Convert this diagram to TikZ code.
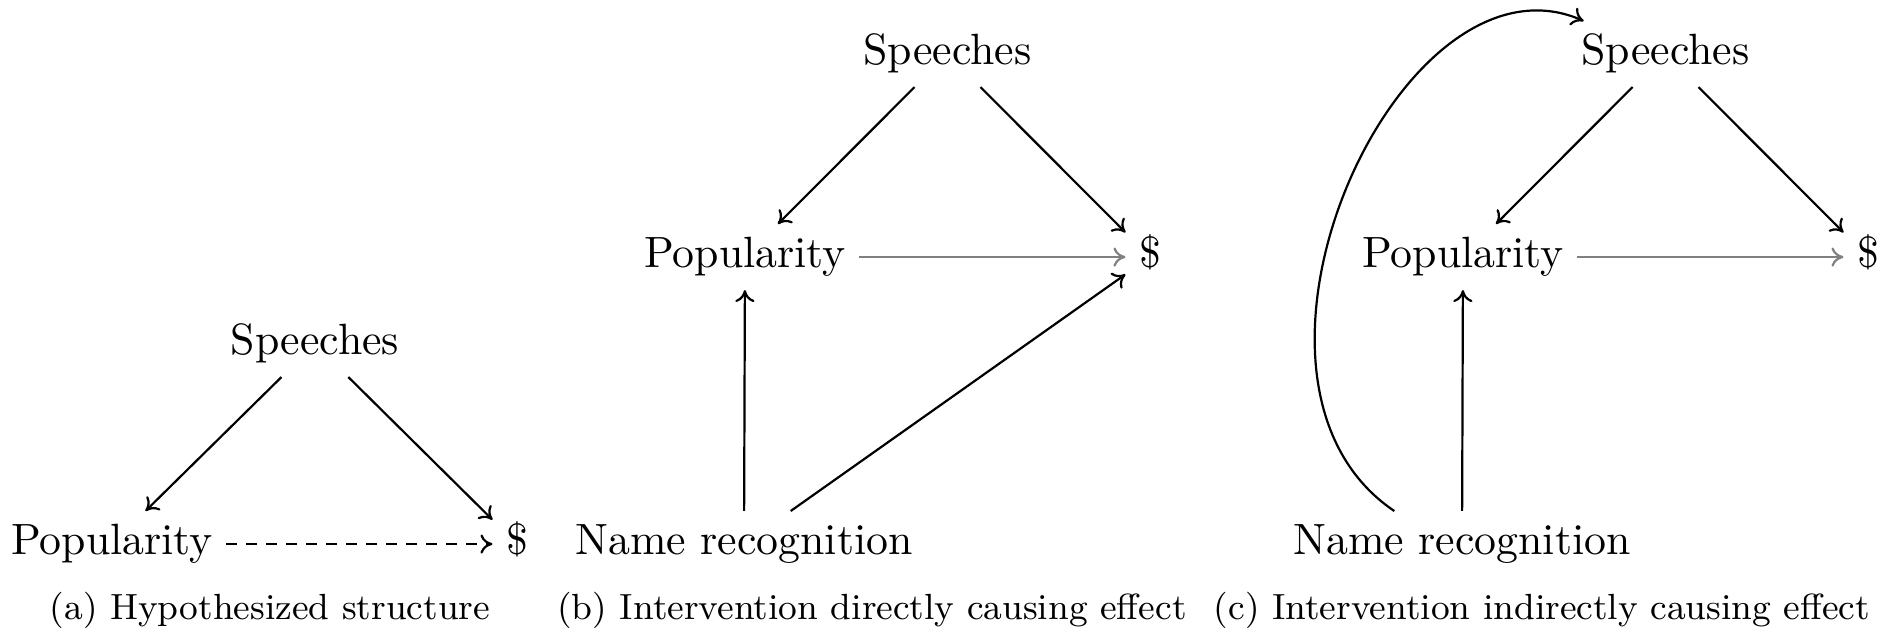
\documentclass[tikz,border=0pt]{standalone}
\usetikzlibrary{arrows.meta}
\begin{document}
\begin{tikzpicture}[x=0.25pt,y=-0.25pt,
  lbl/.style={font=\fontsize{10.95}{13}\selectfont, anchor=base, inner sep=3.2pt,
              text height=7.6pt, text depth=2.12pt},
  captxt/.style={font=\fontsize{9.1}{11}\selectfont, anchor=base, inner sep=0pt},
  arr/.style={-{To[length=3pt,width=4.8pt]}, line width=0.55pt},
  garr/.style={arr, gray},
  dsh/.style={arr, dash pattern=on 2.6pt off 2.4pt}]
\useasboundingbox (0,0) rectangle (1883,628);
% panel (a)
\node[lbl] (sa) at (315,355) {Speeches};
\node[lbl] (pa) at (112,555) {Popularity};
\node[lbl] (da) at (517,555) {\$};
\draw[arr] (sa) -- (pa);
\draw[arr] (sa) -- (da);
\draw[dsh] (pa) -- (da);
\node[captxt] (capa) at (270,620) {(a) Hypothesized structure};
% panel (b)
\node[lbl] (sb) at (947.5,65) {Speeches};
\node[lbl] (pb) at (745,268) {Popularity};
\node[lbl] (db) at (1150,268) {\$};
\node[lbl] (nb) at (744,555) {Name recognition};
\draw[arr] (sb) -- (pb);
\draw[arr] (sb) -- (db);
\draw[garr] (pb) -- (db);
\draw[arr] (nb) -- (pb);
\draw[arr] (nb) -- (db);
\node[captxt] (capb) at (872,620) {(b) Intervention directly causing effect};
% panel (c)
\node[lbl] (sc) at (1665.5,65) {Speeches};
\node[lbl] (pc) at (1463,268) {Popularity};
\node[lbl] (dc) at (1868,268) {\$};
\node[lbl] (nc) at (1462,555) {Name recognition};
\draw[arr] (sc) -- (pc);
\draw[arr] (sc) -- (dc);
\draw[garr] (pc) -- (dc);
\draw[arr] (nc) -- (pc);
\draw[arr] (nc.154) .. controls (1200,380) and (1400,-60) .. (sc.158);
\node[captxt] (capc) at (1542,620) {(c) Intervention indirectly causing effect};
\end{tikzpicture}
\end{document}
